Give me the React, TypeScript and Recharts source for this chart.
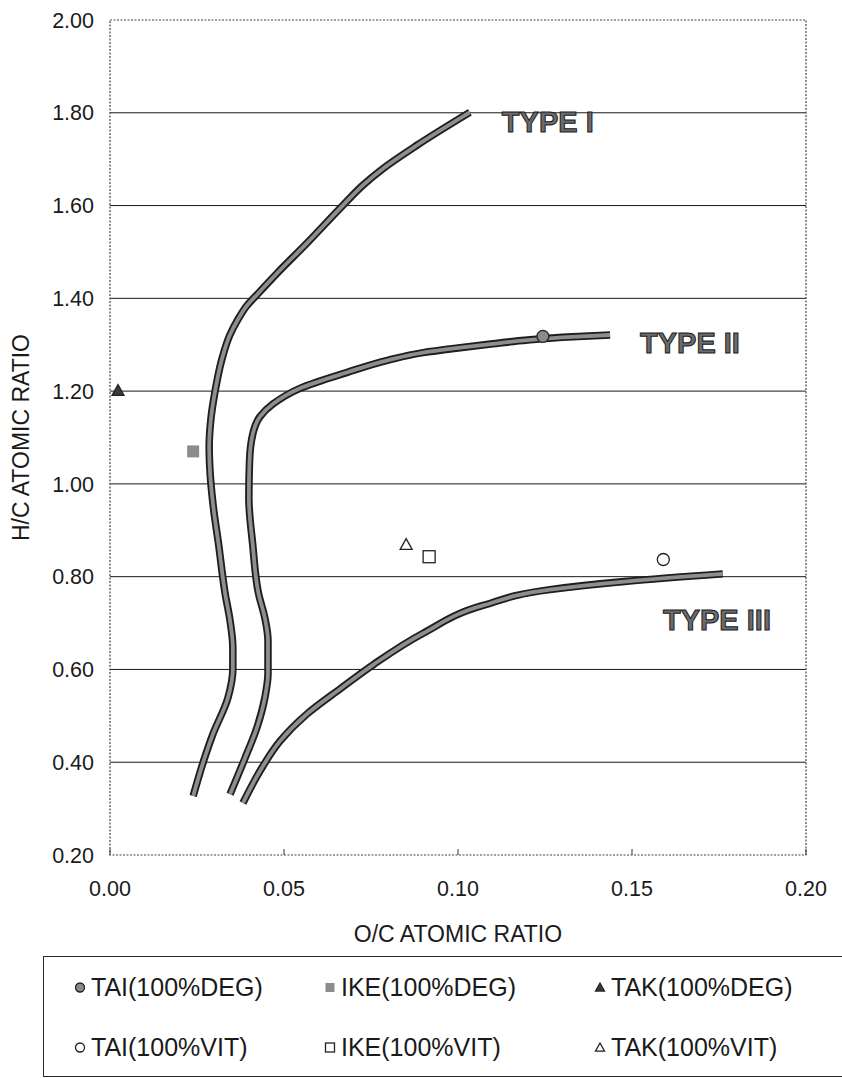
import React from 'react'
import {
  ComposedChart,
  Line,
  Scatter,
  XAxis,
  YAxis,
  CartesianGrid,
  ReferenceArea,
  ReferenceDot,
} from 'recharts'

const FONT = '"Liberation Sans", Arial, Helvetica, sans-serif'

const X_TICKS = [0, 0.05, 0.1, 0.15, 0.2]
const Y_TICKS = [0.2, 0.4, 0.6, 0.8, 1.0, 1.2, 1.4, 1.6, 1.8, 2.0]
const GRID_Y = [0.4, 0.6, 0.8, 1.0, 1.2, 1.4, 1.6, 1.8]

// evolution paths, [O/C, H/C], read bottom to top
const TYPE_I: [number, number][] = [
  [0.0239, 0.327], [0.0267, 0.398], [0.0296, 0.461], [0.0339, 0.539],
  [0.0353, 0.601], [0.0353, 0.647], [0.0345, 0.705], [0.0331, 0.763],
  [0.0312, 0.87], [0.0297, 0.95], [0.0288, 1.02], [0.0285, 1.08],
  [0.029, 1.14], [0.0302, 1.2], [0.0322, 1.27], [0.0345, 1.322],
  [0.0368, 1.355], [0.0392, 1.383], [0.0425, 1.41], [0.048, 1.454],
  [0.0566, 1.519], [0.067, 1.601], [0.0727, 1.644], [0.0785, 1.68],
  [0.0882, 1.73], [0.1034, 1.801],
]

const TYPE_II: [number, number][] = [
  [0.0345, 0.331], [0.0388, 0.409], [0.0422, 0.474], [0.0445, 0.539],
  [0.0454, 0.591], [0.0454, 0.662], [0.0445, 0.711], [0.0427, 0.763],
  [0.041, 0.87], [0.0399, 0.97], [0.0401, 1.05], [0.0411, 1.11],
  [0.0431, 1.145], [0.0468, 1.172], [0.0546, 1.206], [0.068, 1.24],
  [0.08, 1.267], [0.09, 1.283], [0.1, 1.293], [0.11, 1.302],
  [0.12, 1.31], [0.13, 1.316], [0.1437, 1.321],
]

const TYPE_III: [number, number][] = [
  [0.0382, 0.312], [0.0431, 0.381], [0.0489, 0.446], [0.0566, 0.504],
  [0.0661, 0.558], [0.0756, 0.61], [0.09, 0.678], [0.1072, 0.738],
  [0.1264, 0.772], [0.1486, 0.79], [0.1761, 0.806],
]

const TYPE_NAMES = ['TYPE I', 'TYPE II', 'TYPE III']
const TYPE_LABEL_AT: [number, number][] = [[0.1126, 1.78], [0.1523, 1.303], [0.1589, 0.707]]

// samples
const SAMPLE_NAMES = [
  'TAI(100%DEG)', 'IKE(100%DEG)', 'TAK(100%DEG)',
  'TAI(100%VIT)', 'IKE(100%VIT)', 'TAK(100%VIT)',
]
const SAMPLE_OC = [0.1244, 0.0239, 0.0023, 0.159, 0.0917, 0.0851]
const SAMPLE_HC = [1.318, 1.07, 1.201, 0.837, 0.843, 0.869]
const SAMPLE_SHAPES = ['circle', 'square', 'triangle', 'circle', 'square', 'triangle']
const SAMPLE_FILLED = [true, true, true, false, false, false]

const toPts = (arr: [number, number][]) => arr.map(([x, y]) => ({ x, y }))
const curves = [TYPE_I, TYPE_II, TYPE_III].map(toPts)

function Mark({ cx, cy, shape, filled, s = 12 }: any) {
  if (cx == null || cy == null) return null
  const h = s / 2
  if (shape === 'circle') {
    return <circle cx={cx} cy={cy} r={h} fill={filled ? '#8a8a8a' : '#fff'} stroke="#222" strokeWidth={1.3} />
  }
  if (shape === 'square') {
    return filled ? (
      <rect x={cx - h} y={cy - h} width={s} height={s} fill="#8c8c8c" />
    ) : (
      <rect x={cx - h} y={cy - h} width={s} height={s} fill="#fff" stroke="#222" strokeWidth={1.3} />
    )
  }
  const pts = `${cx},${cy - h} ${cx + h},${cy + h * 0.8} ${cx - h},${cy + h * 0.8}`
  return <polygon points={pts} fill={filled ? '#3a3a3a' : '#fff'} stroke="#222" strokeWidth={1.3} />
}

function TypeLabel({ viewBox, value }: any) {
  const x = viewBox.x + viewBox.width / 2
  const y = viewBox.y + viewBox.height / 2
  return (
    <text x={x} y={y} dominantBaseline="central" fontFamily={FONT} fontWeight="bold" fontSize={29}
      fill="#6b6b6b" stroke="#1a1a1a" strokeWidth={1}>
      {value}
    </text>
  )
}

export default function App() {
  return (
    <div style={{ position: 'absolute', left: 0, top: 0, width: 842, height: 1078, background: '#fff', overflow: 'hidden', fontFamily: FONT }}>
      <ComposedChart width={842} height={1078} margin={{ top: 20, right: 36, bottom: 123, left: 10 }}>
        <CartesianGrid horizontal vertical={false} horizontalValues={GRID_Y} stroke="#1a1a1a" strokeWidth={1} />
        <XAxis
          type="number"
          dataKey="x"
          domain={[0, 0.2]}
          ticks={X_TICKS}
          allowDataOverflow
          height={100}
          axisLine={false}
          tickSize={-6}
          tickMargin={32}
          tickLine={{ stroke: '#333' }}
          tickFormatter={(v: number) => v.toFixed(2)}
          tick={{ fontSize: 21.5, fill: '#1a1a1a', fontFamily: FONT }}
          label={({ viewBox }: any) => (
            <text x={viewBox.x + viewBox.width / 2} y={viewBox.y + 79} textAnchor="middle" dominantBaseline="central"
              fontSize={23} fill="#1a1a1a" fontFamily={FONT}>
              O/C ATOMIC RATIO
            </text>
          )}
        />
        <YAxis
          type="number"
          dataKey="y"
          domain={[0.2, 2.0]}
          ticks={Y_TICKS}
          allowDataOverflow
          width={100}
          axisLine={false}
          tickLine={false}
          tickSize={0}
          tickMargin={16}
          tickFormatter={(v: number) => v.toFixed(2)}
          tick={{ fontSize: 21.5, fill: '#1a1a1a', fontFamily: FONT }}
          label={({ viewBox }: any) => {
            const cy = viewBox.y + viewBox.height / 2
            return (
              <text x={21} y={cy} transform={`rotate(-90, 21, ${cy})`} textAnchor="middle" dominantBaseline="central"
                fontSize={23} fill="#1a1a1a" fontFamily={FONT}>
                H/C ATOMIC RATIO
              </text>
            )
          }}
        />
        <ReferenceArea x1={0} x2={0.2} y1={0.2} y2={2.0} fill="none" stroke="#444" strokeDasharray="2 1.5" strokeWidth={1.2} ifOverflow="visible" />

        {curves.map((pts, i) => (
          <Line key={'o' + i} data={pts} dataKey="y" type="monotoneY" stroke="#1e1e1e" strokeWidth={7.5}
            strokeLinecap="butt" dot={false} activeDot={false} isAnimationActive={false} legendType="none" />
        ))}
        {curves.map((pts, i) => (
          <Line key={'i' + i} data={pts} dataKey="y" type="monotoneY" stroke="#8e8e8e" strokeWidth={3.8}
            strokeLinecap="butt" dot={false} activeDot={false} isAnimationActive={false} legendType="none" />
        ))}

        {SAMPLE_NAMES.map((name, i) => (
          <Scatter key={name} name={name} data={[{ x: SAMPLE_OC[i], y: SAMPLE_HC[i] }]} dataKey="y"
            isAnimationActive={false}
            shape={(p: any) => <Mark cx={p.cx} cy={p.cy} shape={SAMPLE_SHAPES[i]} filled={SAMPLE_FILLED[i]} />} />
        ))}

        {TYPE_NAMES.map((t, i) => (
          <ReferenceDot key={t} x={TYPE_LABEL_AT[i][0]} y={TYPE_LABEL_AT[i][1]} r={0} fill="none" stroke="none"
            ifOverflow="visible" label={(p: any) => <TypeLabel {...p} value={t} />} />
        ))}
      </ComposedChart>

      <div style={{ position: 'absolute', left: 43, top: 956, width: 830, height: 121, border: '1.5px solid #2a2a2a', boxSizing: 'border-box' }}>
        {SAMPLE_NAMES.map((name, i) => {
          const col = i % 3
          const row = Math.floor(i / 3)
          const left = [30, 280, 550][col]
          const top = [30, 90][row]
          return (
            <div key={name} style={{ position: 'absolute', left, top, transform: 'translateY(-50%)', display: 'flex', alignItems: 'center', fontSize: 25, color: '#1a1a1a', whiteSpace: 'nowrap' }}>
              <svg width={12} height={12} style={{ marginRight: 5 }}>
                <Mark cx={6} cy={6} shape={SAMPLE_SHAPES[i]} filled={SAMPLE_FILLED[i]} s={9} />
              </svg>
              <span>{name}</span>
            </div>
          )
        })}
      </div>
    </div>
  )
}
